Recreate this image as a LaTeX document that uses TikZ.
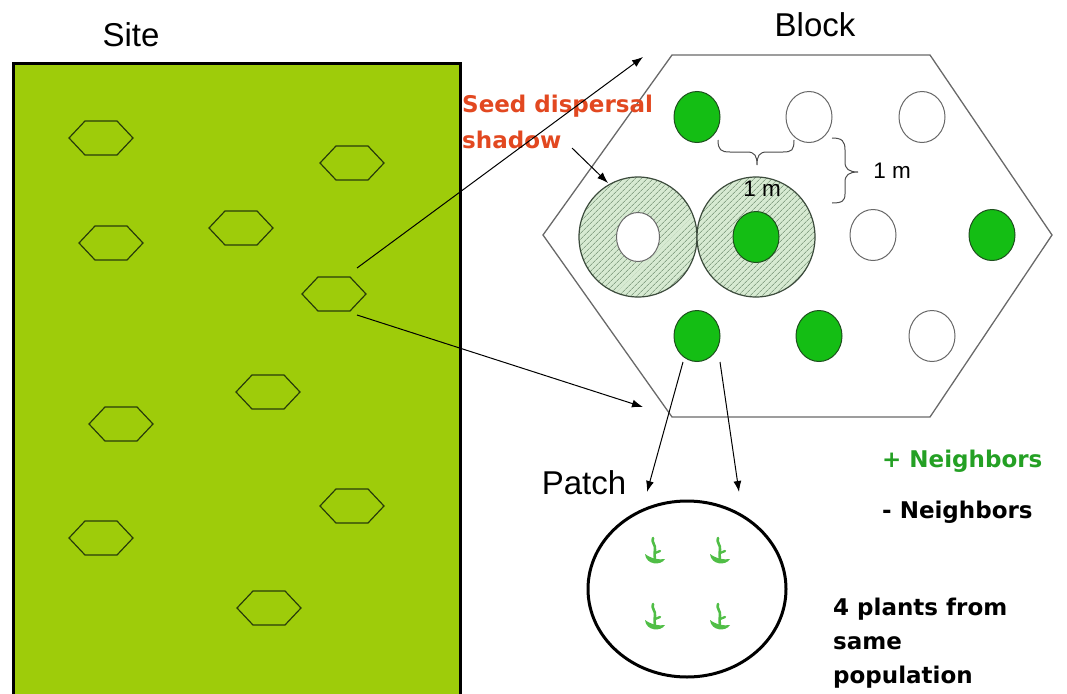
\documentclass[tikz,border=0pt]{standalone}
\usepackage{fontspec}
\setmainfont{Liberation Sans}
\newfontfamily\labelfont{DejaVu Sans}
\usetikzlibrary{arrows.meta,shapes.geometric,patterns.meta}

\definecolor{sitegreen}{RGB}{158,204,10}
\definecolor{hexdark}{RGB}{40,60,10}
\definecolor{plantgreen}{RGB}{20,190,20}
\definecolor{plantedge}{RGB}{30,80,30}
\definecolor{ringfill}{RGB}{215,234,210}
\definecolor{ringhatch}{RGB}{95,125,95}
\definecolor{ringedge}{RGB}{60,75,60}
\definecolor{seedred}{RGB}{226,72,32}
\definecolor{plusgreen}{RGB}{36,160,36}
\definecolor{sproutc}{RGB}{80,190,70}
\definecolor{blockgray}{RGB}{105,105,105}

\tikzset{
  title/.style={font=\fontsize{33}{38}\selectfont, inner sep=0pt},
  boldlabel/.style={font=\labelfont\bfseries\fontsize{23}{28}\selectfont, inner sep=0pt, anchor=base west},
  dimlabel/.style={font=\fontsize{22.5}{26}\selectfont, inner sep=0pt, anchor=base},
  hexline/.style={draw=hexdark, line width=1.2pt},
  blockline/.style={draw=blockgray, line width=1.3pt},
  plantcell/.style={ellipse, inner sep=0pt, minimum width=46pt, minimum height=51pt},
  withplant/.style={plantcell, fill=plantgreen, draw=plantedge, line width=1pt},
  noplant/.style={plantcell, fill=white, draw=blockgray, line width=1pt},
  shadowring/.style={ellipse, inner sep=0pt, minimum width=118pt, minimum height=120pt,
    draw=ringedge, line width=1.2pt, preaction={fill=ringfill},
    pattern={Lines[angle=45,distance=4pt,line width=0.5pt]}, pattern color=ringhatch},
  brace/.style={draw=black!70, line width=1pt},
  arrowline/.style={draw=black, line width=1pt, -{Latex[length=11pt,width=8pt]}},
  plothex/.pic={\draw[hexline] (-32,0) -- (-16,-17) -- (16,-17) -- (32,0) -- (16,17) -- (-16,17) -- cycle;},
  sprout/.pic={
    \draw[sproutc, line width=2.6pt, line cap=round]
      (-2,-24) .. controls (-4,-20) and (1,-17) .. (0,-12) .. controls (-1,-8) and (0,-5) .. (0,-2);
    \draw[sproutc, line width=2.3pt, line cap=round] (0,-9) -- (5,-11);
    \fill[sproutc] (-10,-8) .. controls (-9,3) and (6,4) .. (10,-3)
      .. controls (4,-2) and (-3,-3) .. (-10,-8) -- cycle;
  }
}

\begin{document}
\begin{tikzpicture}[x=1pt,y=-1pt]
\useasboundingbox (0,0) rectangle (1067,693);

% ---- site ----
\node[title, anchor=base] (site) at (131,47) {Site};
\filldraw[fill=sitegreen, draw=black, line width=3pt] (13,63) rectangle (460,700);
\foreach \px/\py [count=\i] in {101/138, 352/163, 241/228, 111/243, 334/294,
                                 268/392, 121/424, 352/506, 101/538, 269/608}
  \pic (hex\i) at (\px,\py) {plothex};

% ---- block ----
\node[title, anchor=base] (block) at (815,37) {Block};
\draw[blockline] (672,55) -- (930,55) -- (1052,235) -- (930,417) -- (672,417) -- (543,235) -- cycle;

\node[shadowring] (ring1) at (638,237) {};
\node[shadowring] (ring2) at (756,237) {};

\node[withplant] (c11) at (697,117) {};
\node[noplant]   (c12) at (809,117) {};
\node[noplant]   (c13) at (922,117) {};
\node[noplant, minimum width=43pt, minimum height=49pt] (c21) at (638,237) {};
\node[withplant] (c22) at (756,237) {};
\node[noplant]   (c23) at (873,235) {};
\node[withplant] (c24) at (992,235) {};
\node[withplant] (c31) at (697,336) {};
\node[withplant] (c32) at (819,336) {};
\node[noplant]   (c33) at (932,336) {};

% spacing braces
\draw[brace] (718,140) .. controls (718,150) and (721,152) .. (730,152) -- (747,152)
  .. controls (755,152) and (757,156) .. (757,165)
  .. controls (757,156) and (759,152) .. (767,152) -- (783,152)
  .. controls (792,152) and (794,150) .. (794,140);
\draw[brace] (832,138) .. controls (842,138) and (845,141) .. (845,150) -- (845,162)
  .. controls (845,169) and (849,172) .. (858,172)
  .. controls (849,172) and (845,175) .. (845,182) -- (845,194)
  .. controls (845,201) and (842,203) .. (832,203);
\node[dimlabel] (dimh) at (762,196) {1 m};
\node[dimlabel] (dimv) at (892,178) {1 m};

% seed shadow label
\node[boldlabel, text=seedred] (seed1) at (462,112) {Seed dispersal};
\node[boldlabel, text=seedred] (seed2) at (462,148) {shadow};
\coordinate (seedtail) at (572,148);
\coordinate (seedtip) at (608,183);
\draw[arrowline] (seedtail) -- (seedtip);

% zoom from the site to the block
\coordinate (zoomA) at (357,268);
\coordinate (zoomB) at (357,315);
\coordinate (blockA) at (643,57);
\coordinate (blockB) at (643,407);
\draw[arrowline] (zoomA) -- (blockA);
\draw[arrowline] (zoomB) -- (blockB);

% ---- patch ----
\node[title, anchor=base] (patch) at (584,494) {Patch};
\node[ellipse, draw=black, line width=3pt, inner sep=0pt, minimum width=198pt, minimum height=176pt] (patchc) at (687,589) {};
\coordinate (cellL) at (683,362);
\coordinate (cellR) at (720,362);
\coordinate (patchL) at (647,492);
\coordinate (patchR) at (739,492);
\draw[arrowline] (cellL) -- (patchL);
\draw[arrowline] (cellR) -- (patchR);

\pic (s1) at (655,562) {sprout};
\pic (s2) at (720,562) {sprout};
\pic (s3) at (655,628) {sprout};
\pic (s4) at (720,628) {sprout};

% ---- legend ----
\node[boldlabel, text=plusgreen] (plus) at (882,467) {+ Neighbors};
\node[boldlabel] (minus) at (882,518) {- Neighbors};
\node[boldlabel] (note1) at (833,615) {4 plants from};
\node[boldlabel] (note2) at (833,649) {same};
\node[boldlabel] (note3) at (833,683) {population};
\end{tikzpicture}
\end{document}
